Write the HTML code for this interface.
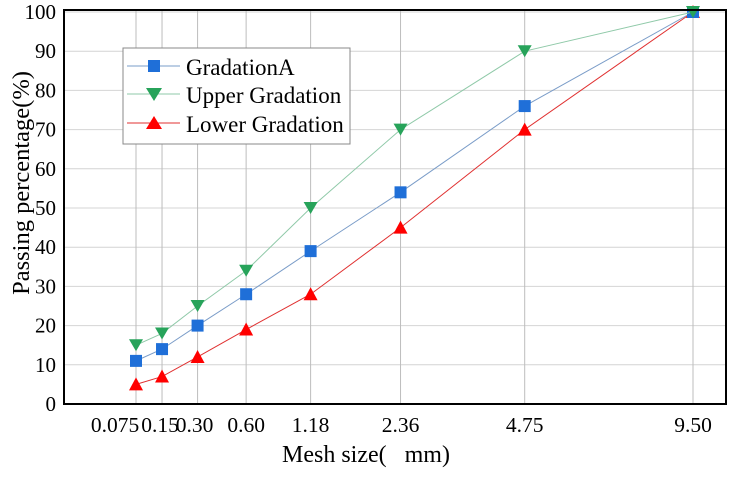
<!DOCTYPE html>
<html><head><meta charset="utf-8"><style>
body{margin:0;background:#fff}
svg,svg text{font-family:"Liberation Serif","Times New Roman",serif}
</style></head><body>
<svg id="chart" width="736" height="472" viewBox="0 0 736 472" xmlns="http://www.w3.org/2000/svg" font-family="Liberation Serif, serif">
<g id="grid"></g><g id="series"></g><g id="axes"></g>
<g>
<rect x="123" y="48" width="227" height="96" fill="#fff" stroke="#888" stroke-width="1"/>
<line x1="127" y1="66" x2="180" y2="66" stroke="#7a9cc8" stroke-width="1"/>
<rect x="148" y="60" width="12" height="12" fill="#1f6fd8"/>
<text x="186" y="75" font-size="23" font-family="Liberation Serif, serif">GradationA</text>
<line x1="127" y1="94" x2="180" y2="94" stroke="#8fc9a8" stroke-width="1"/>
<polygon points="146,88 162,88 154,101" fill="#27a35a"/>
<text x="186" y="103" font-size="23" font-family="Liberation Serif, serif">Upper Gradation</text>
<line x1="127" y1="123" x2="180" y2="123" stroke="#e03030" stroke-width="1"/>
<polygon points="146,129 162,129 154,116" fill="#ff0000"/>
<text x="186" y="132" font-size="23" font-family="Liberation Serif, serif">Lower Gradation</text>
</g>
<text x="282" y="462" font-size="24" font-family="Liberation Serif, serif" xml:space="preserve">Mesh size(   mm)</text>
<text transform="translate(29,183) rotate(-90)" font-size="24.5" text-anchor="middle" font-family="Liberation Serif, serif">Passing percentage(%)</text>
</svg>
<script>
const sizes=[0.075,0.15,0.30,0.60,1.18,2.36,4.75,9.50];
const tickLabels=["0.075","0.15","0.30","0.60","1.18","2.36","4.75","9.50"];
const gradationA=[11,14,20,28,39,54,76,100];
const upperGradation=[15,18,25,34,50,70,90,100];
const lowerGradation=[5,7,12,19,28,45,70,100];
const yTicks=[0,10,20,30,40,50,60,70,80,90,100];
const NS="http://www.w3.org/2000/svg";
const L=64,R=726,T=10,B=404;
const p=0.45,x0=Math.pow(0.075,p),x1=Math.pow(9.5,p);
function xs(v){return 136+(Math.pow(v,p)-x0)/(x1-x0)*(693-136);}
function ys(v){return 404-v*3.92;}
function mk(tag,attrs,parent){const e=document.createElementNS(NS,tag);for(const k in attrs)e.setAttribute(k,attrs[k]);parent.appendChild(e);return e;}
const grid=document.getElementById('grid'),axes=document.getElementById('axes'),ser=document.getElementById('series');
const FF='Liberation Serif, serif';
yTicks.forEach(t=>{
 const l=mk('line',{x1:L,x2:R,y1:ys(t),y2:ys(t),stroke:'#d4d4d4','stroke-width':1},grid);
 
 
 const tx=mk('text',{x:56,y:ys(t)+7,'font-size':21,'text-anchor':'end','font-family':FF},axes);
 tx.textContent=t;
 
 
});
sizes.forEach((s,i)=>{
 const l=mk('line',{x1:xs(s),x2:xs(s),y1:T,y2:B,stroke:'#bdbdbd','stroke-width':1},grid);
 
 
 const dx=i==0?-21:i==1?-2:i==2?-3:0;
 const tx=mk('text',{x:xs(s)+dx,y:432,'font-size':21.5,'text-anchor':'middle','font-family':FF},axes);
 tx.textContent=tickLabels[i];
 
 
});
const fr=mk('rect',{x:L,y:T,width:R-L,height:B-T,fill:'none',stroke:'#000','stroke-width':2},axes);


function series(vals,color,lineColor,shape,name){
 const g=mk('g',{},ser);
 
 
 mk('polyline',{points:vals.map((v,i)=>xs(sizes[i])+','+ys(v)).join(' '),fill:'none',stroke:lineColor,'stroke-width':1},g);
 vals.forEach((v,i)=>{
  const x=xs(sizes[i]),y=ys(v);let m;
  if(shape=='sq')m=mk('rect',{x:x-6,y:y-6,width:12,height:12,fill:color},g);
  else if(shape=='down')m=mk('polygon',{points:`${x-7},${y-6} ${x+7},${y-6} ${x},${y+6}`,fill:color},g);
  else m=mk('polygon',{points:`${x-7},${y+6} ${x+7},${y+6} ${x},${y-7}`,fill:color},g);
  
  
 });
}
series(lowerGradation,'#ff0000','#e03030','up','lower-gradation-series');
series(gradationA,'#1f6fd8','#7a9cc8','sq','gradation-a-series');
series(upperGradation,'#27a35a','#8fc9a8','down','upper-gradation-series');
</script>
</body></html>
